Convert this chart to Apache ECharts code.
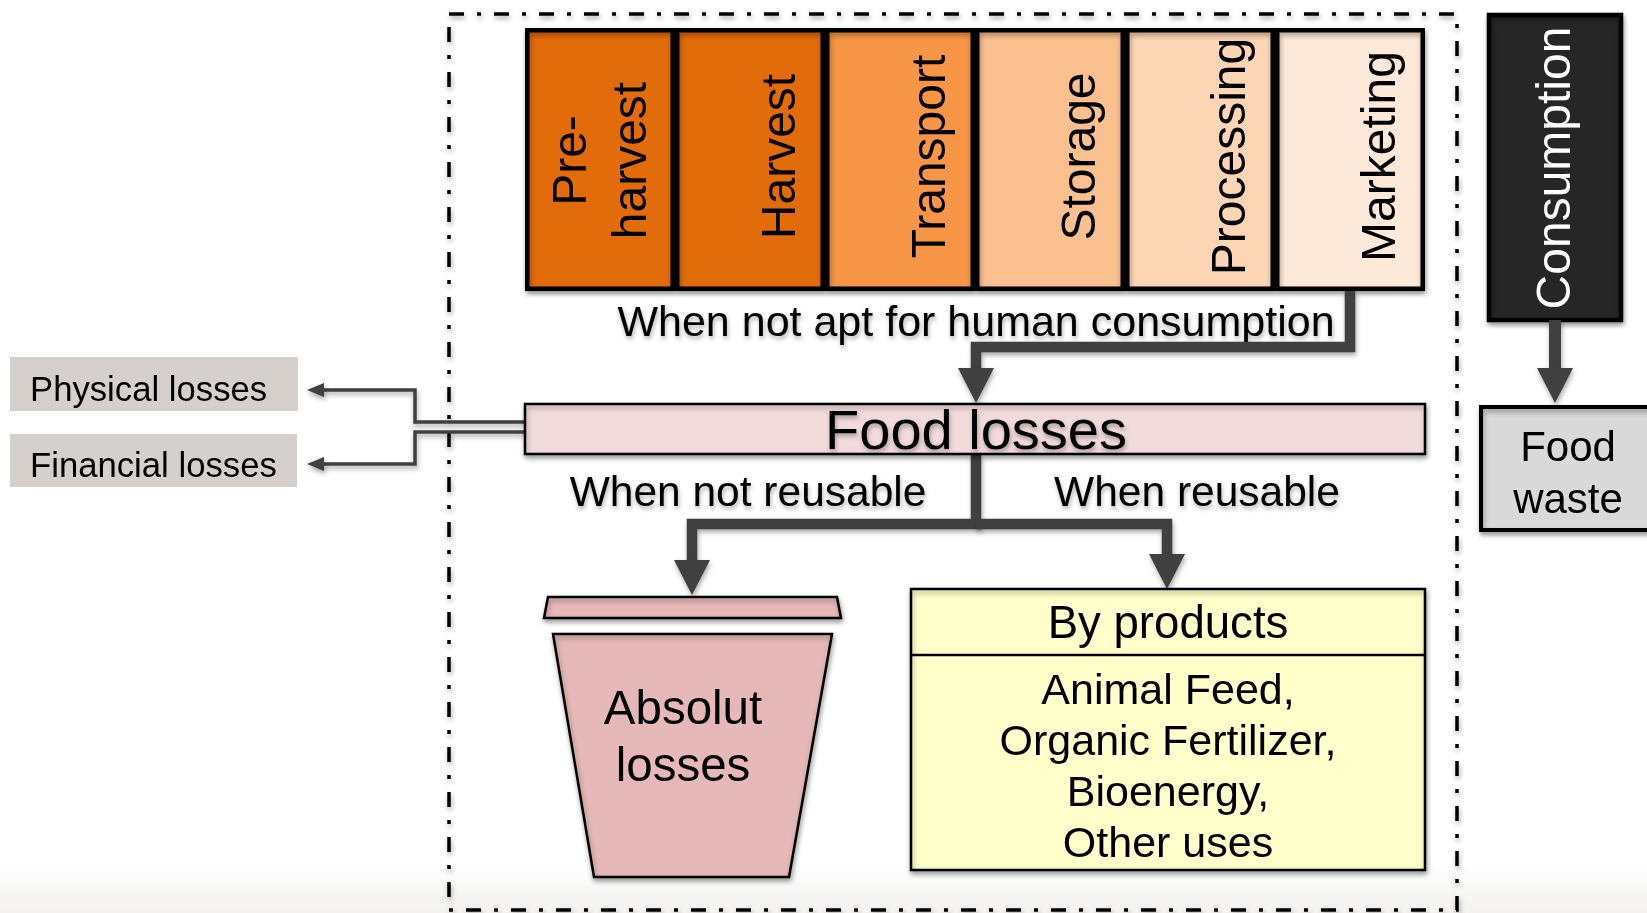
<!DOCTYPE html>
<html>
<head>
<meta charset="utf-8">
<title>Food losses and food waste</title>
<script src="https://cdn.jsdelivr.net/npm/echarts@6/dist/echarts.min.js"></script>
<style>
  html, body { margin: 0; padding: 0; background: #fff; }
  #main { width: 1647px; height: 913px; }
</style>
</head>
<body>
<div id="main"></div>
<script>
// supply chain stages, left to right
var stages = ['Pre-\nharvest', 'Harvest', 'Transport', 'Storage', 'Processing', 'Marketing'];
var stageShare = [1, 1, 1, 1, 1, 1];
var lossTypes = ['Physical losses', 'Financial losses'];
var conditions = ['When not apt for human consumption', 'When not reusable', 'When reusable'];
var byProductUses = ['Animal Feed,', 'Organic Fertilizer,', 'Bioenergy,', 'Other uses'];
var nodes = ['Food losses', 'Absolut\nlosses', 'By products', 'Consumption', 'Food\nwaste'];

var FONT = '"Liberation Sans", Arial, Helvetica, sans-serif';
var INK = '#404040';
var stageColors = ['#E36C0A', '#E36C0A', '#F79646', '#FAC090', '#FCD5B5', '#FDE9D9'];

// layout in picture units (0..1647 across, 0..913 down)
var L = {
  frame: [449, 14, 1457, 910],
  chain: [525, 28, 1425, 291],
  consumption: [1489, 15, 1621, 320],
  waste: [1481, 407, 1656, 530],
  losses: [525, 404, 1425, 454],
  lid: [[548, 597], [837, 597], [841, 618], [544, 618]],
  bin: [[553, 634], [832, 634], [789, 877], [594, 877]],
  byProducts: [911, 589, 1425, 870],
  byProductsHead: 655,
  lossTypeBoxes: [[10, 357, 298, 411], [10, 434, 297, 487]]
};

var shadow = { shadowBlur: 5, shadowOffsetX: 1, shadowOffsetY: 3, shadowColor: 'rgba(0,0,0,0.35)' };
var textShadow = { textShadowBlur: 4, textShadowOffsetX: 1, textShadowOffsetY: 3, textShadowColor: 'rgba(0,0,0,0.3)' };

function helpers(api) {
  function pt(x, y) { return api.coord([x, y]); }
  function rect(b) {
    var a = pt(b[0], b[1]), c = pt(b[2], b[3]);
    return { x: a[0], y: a[1], width: c[0] - a[0], height: c[1] - a[1] };
  }
  function box(b, fill, stroke, lw) {
    return { type: 'rect', shape: rect(b),
      style: Object.assign({ fill: fill, stroke: stroke, lineWidth: lw }, stroke ? shadow : {}) };
  }
  function poly(points, fill, lw) {
    return { type: 'polygon', shape: { points: points.map(function (q) { return pt(q[0], q[1]); }) },
      style: Object.assign({ fill: fill, stroke: '#000', lineWidth: lw }, shadow) };
  }
  function label(text, x, y, size, o) {
    o = o || {};
    var p = pt(x, y + 4);
    return { type: 'text', x: p[0], y: p[1], rotation: o.rotation || 0,
      style: Object.assign({ text: text, fill: o.color || '#000', fontSize: size, fontFamily: FONT,
        align: o.align || 'center', verticalAlign: 'middle', lineHeight: o.lineHeight || Math.round(size * 1.2) },
        o.shadow ? textShadow : {}) };
  }
  // elbow connector ending in an arrow head at the last point
  function arrow(pts, lw, hw, hl) {
    var p = pts.map(function (q) { return pt(q[0], q[1]); });
    var n = p.length, tip = p[n - 1], prev = p[n - 2];
    var dx = tip[0] - prev[0], dy = tip[1] - prev[1];
    var len = Math.sqrt(dx * dx + dy * dy), ux = dx / len, uy = dy / len;
    var base = [tip[0] - ux * hl, tip[1] - uy * hl];
    var shaft = p.slice(0, n - 1).concat([[base[0] + ux * 2, base[1] + uy * 2]]);
    return [
      { type: 'polyline', shape: { points: shaft },
        style: Object.assign({ stroke: INK, lineWidth: lw, fill: null, lineJoin: 'miter' }, shadow) },
      { type: 'polygon', shape: { points: [[base[0] - uy * hw / 2, base[1] + ux * hw / 2],
          [base[0] + uy * hw / 2, base[1] - ux * hw / 2], tip] },
        style: Object.assign({ fill: INK }, shadow) }
    ];
  }
  return { pt: pt, rect: rect, box: box, poly: poly, label: label, arrow: arrow };
}

function drawBackdrop(params, api) {
  var h = helpers(api);
  return { type: 'group', children: [
    { type: 'rect', shape: h.rect([0, 862, 1647, 913]),
      style: { fill: new echarts.graphic.LinearGradient(0, 0, 0, 1,
        [{ offset: 0, color: '#FFFFFF' }, { offset: 1, color: '#F3F2EF' }]) } },
    { type: 'rect', shape: h.rect(L.frame),
      style: Object.assign({ fill: null, stroke: '#000', lineWidth: 3.5, lineDash: [15, 13, 4, 13] }, shadow) }
  ] };
}

function drawFlow(params, api) {
  var h = helpers(api);
  var c = [];
  // consumption -> food waste
  c.push(h.box(L.consumption, '#262626', '#000', 4.5));
  c.push(h.label(nodes[3], 1557, 164, 48, { rotation: Math.PI / 2, color: '#fff' }));
  c = c.concat(h.arrow([[1555, 320], [1555, 403]], 12, 36, 35));
  c.push(h.box(L.waste, '#D9D9D9', '#000', 4));
  c.push(h.label(nodes[4], 1568, 471, 42, { lineHeight: 52 }));

  // chain -> food losses
  c.push(h.label(conditions[0], 976, 320, 43, { shadow: true }));
  c = c.concat(h.arrow([[1350, 291], [1350, 347], [976, 347], [976, 403]], 10.5, 36, 35));

  // food losses -> physical / financial
  c = c.concat(h.arrow([[525, 422], [415, 422], [415, 390], [307, 390]], 3.5, 14, 17));
  c = c.concat(h.arrow([[525, 432], [415, 432], [415, 464], [307, 464]], 3.5, 14, 17));
  L.lossTypeBoxes.forEach(function (b, i) {
    c.push(h.box(b, '#D5D0CB', null, 0));
    c.push(h.label(lossTypes[i], b[0] + 20, (b[1] + b[3]) / 2 + 3, 34.7, { align: 'left' }));
  });

  // branches below food losses
  c = c.concat(h.arrow([[976, 454], [976, 524], [692, 524], [692, 595]], 10.5, 36, 35));
  c = c.concat(h.arrow([[976, 524], [1167, 524], [1167, 589]], 10.5, 36, 35));
  c.push(h.box(L.losses, '#F2DCDB', '#000', 2.5));
  c.push(h.label(nodes[0], 976, 430, 56, { shadow: true }));
  c.push(h.label(conditions[1], 748, 490, 42.5, { shadow: true }));
  c.push(h.label(conditions[2], 1197, 490, 42.5, { shadow: true }));

  // waste bin
  c.push(h.poly(L.lid, '#E6B9B8', 2.5));
  c.push(h.poly(L.bin, '#E6B9B8', 2.5));
  c.push(h.label(nodes[1], 683, 735, 47.5, { lineHeight: 57 }));

  // by-products table
  c.push(h.box(L.byProducts, '#FFFFCC', '#000', 2.5));
  var a = h.pt(L.byProducts[0], L.byProductsHead), b = h.pt(L.byProducts[2], L.byProductsHead);
  c.push({ type: 'line', shape: { x1: a[0], y1: a[1], x2: b[0], y2: b[1] }, style: { stroke: '#000', lineWidth: 2.5 } });
  c.push(h.label(nodes[2], 1168, 621, 45.6));
  c.push(h.label(byProductUses.join('\n'), 1168, 765, 43, { lineHeight: 51 }));

  return { type: 'group', children: c };
}

var chart = echarts.init(document.getElementById('main'));
var option = {
  animation: false,
  backgroundColor: '#fff',
  grid: [
    { left: 0, top: 0, right: 0, bottom: 0 },
    { left: L.chain[0], top: L.chain[1], width: L.chain[2] - L.chain[0], height: L.chain[3] - L.chain[1] }
  ],
  xAxis: [
    { type: 'value', min: 0, max: 1647, show: false },
    { type: 'category', gridIndex: 1, data: stages, show: false }
  ],
  yAxis: [
    { type: 'value', min: 0, max: 913, inverse: true, show: false },
    { type: 'value', gridIndex: 1, min: 0, max: 1, show: false }
  ],
  series: [
    { type: 'custom', name: 'backdrop', z: 1, xAxisIndex: 0, yAxisIndex: 0, data: [[0, 0]], renderItem: drawBackdrop, silent: true },
    {
      type: 'bar', name: 'stages', z: 3, xAxisIndex: 1, yAxisIndex: 1, barWidth: '100%',
      data: stageShare.map(function (v, i) {
        return {
          value: v,
          itemStyle: { color: stageColors[i] },
          label: i === 0 ? { offset: [-1, 3] } : {}
        };
      }),
      itemStyle: Object.assign({ borderColor: '#000', borderWidth: 4.5 }, shadow),
      label: {
        show: true, position: 'inside', rotate: 90, offset: [3, 32],
        formatter: function (p) { return p.name; },
        fontSize: 48, fontFamily: FONT, color: '#000', lineHeight: 60
      },
      silent: true
    },
    { type: 'custom', name: 'flow', z: 4, xAxisIndex: 0, yAxisIndex: 0, data: [[0, 0]], renderItem: drawFlow, silent: true }
  ]
};
chart.setOption(option);
</script>
</body>
</html>
